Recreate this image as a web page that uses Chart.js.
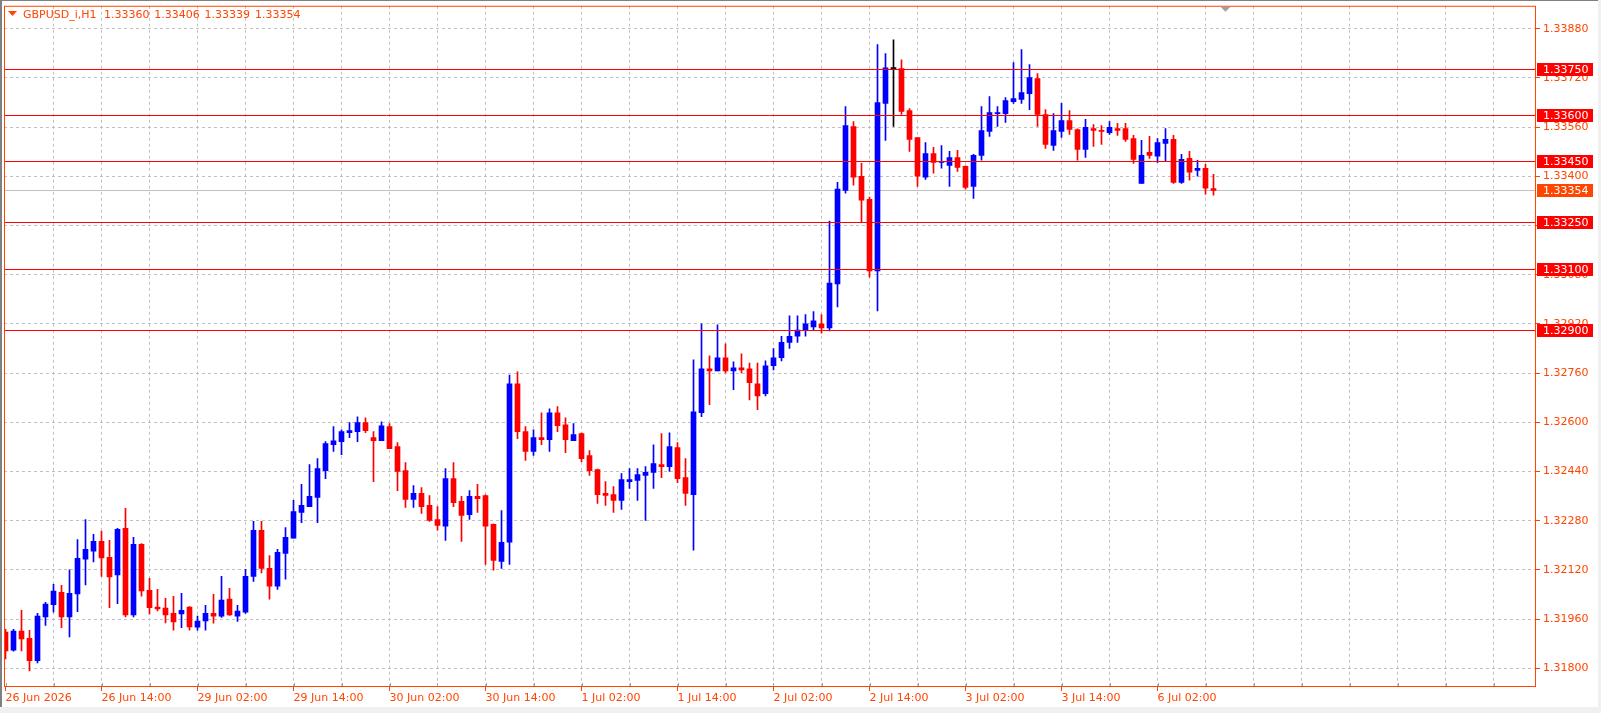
<!DOCTYPE html>
<html>
<head>
<meta charset="utf-8">
<title>GBPUSD_i,H1</title>
<script src="https://cdn.jsdelivr.net/npm/chart.js@4.4.0/dist/chart.umd.min.js"></script>
<style>
  html, body { margin: 0; padding: 0; background: #fff; overflow: hidden; }
</style>
</head>
<body>
<canvas id="myChart" width="1601" height="713"></canvas>
<script>
const symbol = 'GBPUSD_i,H1'
const timeLabels = ['26 Jun 2026', '26 Jun 14:00', '29 Jun 02:00', '29 Jun 14:00', '30 Jun 02:00', '30 Jun 14:00',
  '1 Jul 02:00', '1 Jul 14:00', '2 Jul 02:00', '2 Jul 14:00', '3 Jul 02:00', '3 Jul 14:00', '6 Jul 02:00']
const labelStep = 12   // bars between time labels
const gridStep = 6     // bars between vertical grid lines

const opens = [
  1.31918, 1.31859, 1.31921, 1.31898, 1.31825, 1.31967, 1.32007, 1.32047, 1.31967, 1.32042,
  1.32155, 1.32181, 1.32213, 1.32161, 1.32104, 1.32255, 1.31974, 1.32203, 1.32054, 1.31999,
  1.31996, 1.31979, 1.31977, 1.31999, 1.31934, 1.31954, 1.31979, 1.31970, 1.32025, 1.31970,
  1.31983, 1.32099, 1.32249, 1.32125, 1.32067, 1.32174, 1.32223, 1.32307, 1.32326, 1.32356,
  1.32443, 1.32527, 1.32537, 1.32566, 1.32570, 1.32599, 1.32550, 1.32540, 1.32586, 1.32521,
  1.32443, 1.32349, 1.32369, 1.32330, 1.32284, 1.32262, 1.32417, 1.32343, 1.32300, 1.32359,
  1.32362, 1.32268, 1.32148, 1.32210, 1.32725, 1.32570, 1.32505, 1.32550, 1.32544, 1.32631,
  1.32592, 1.32540, 1.32563, 1.32492, 1.32446, 1.32369, 1.32365, 1.32346, 1.32407, 1.32411,
  1.32427, 1.32437, 1.32463, 1.32456, 1.32518, 1.32420, 1.32365, 1.32631, 1.32774, 1.32767,
  1.32810, 1.32767, 1.32777, 1.32774, 1.32725, 1.32693, 1.32784, 1.32810, 1.32860, 1.32880,
  1.32900, 1.32910, 1.32920, 1.32907, 1.33050, 1.33354, 1.33562, 1.33400, 1.33325, 1.33092,
  1.33637, 1.33750, 1.33750, 1.33614, 1.33526, 1.33397, 1.33474, 1.33445, 1.33435, 1.33461,
  1.33432, 1.33367, 1.33468, 1.33546, 1.33604, 1.33604, 1.33643, 1.33650, 1.33669, 1.33718,
  1.33601, 1.33500, 1.33546, 1.33581, 1.33552, 1.33487, 1.33555, 1.33549, 1.33542, 1.33555,
  1.33555, 1.33523, 1.33377, 1.33478, 1.33465, 1.33507, 1.33520, 1.33380, 1.33458, 1.33419,
  1.33426, 1.33360
]
const highs = [
  1.31927, 1.31927, 1.31989, 1.31924, 1.31979, 1.32015, 1.32073, 1.32070, 1.32120, 1.32219,
  1.32284, 1.32236, 1.32246, 1.32216, 1.32255, 1.32320, 1.32226, 1.32206, 1.32093, 1.32057,
  1.32028, 1.32034, 1.32044, 1.32001, 1.31970, 1.32005, 1.32041, 1.32099, 1.32060, 1.32005,
  1.32122, 1.32278, 1.32278, 1.32167, 1.32187, 1.32258, 1.32346, 1.32398, 1.32463, 1.32482,
  1.32537, 1.32586, 1.32576, 1.32599, 1.32618, 1.32615, 1.32570, 1.32602, 1.32596, 1.32534,
  1.32469, 1.32394, 1.32388, 1.32362, 1.32326, 1.32450, 1.32469, 1.32359, 1.32378, 1.32398,
  1.32364, 1.32270, 1.32313, 1.32754, 1.32764, 1.32586, 1.32576, 1.32631, 1.32644, 1.32651,
  1.32615, 1.32596, 1.32565, 1.32508, 1.32448, 1.32407, 1.32391, 1.32433, 1.32450, 1.32450,
  1.32456, 1.32527, 1.32563, 1.32566, 1.32534, 1.32482, 1.32803, 1.32920, 1.32816, 1.32917,
  1.32855, 1.32797, 1.32823, 1.32793, 1.32793, 1.32800, 1.32840, 1.32880, 1.32946, 1.32946,
  1.32950, 1.32960, 1.32950, 1.33254, 1.33380, 1.33627, 1.33578, 1.33442, 1.33332, 1.33828,
  1.33799, 1.33844, 1.33779, 1.33620, 1.33526, 1.33510, 1.33494, 1.33500, 1.33481, 1.33484,
  1.33434, 1.33471, 1.33627, 1.33659, 1.33627, 1.33656, 1.33770, 1.33812, 1.33763, 1.33734,
  1.33617, 1.33604, 1.33637, 1.33614, 1.33554, 1.33585, 1.33568, 1.33565, 1.33578, 1.33572,
  1.33572, 1.33533, 1.33517, 1.33530, 1.33523, 1.33555, 1.33533, 1.33471, 1.33481, 1.33452,
  1.33439, 1.33406
]
const lows = [
  1.31831, 1.31856, 1.31857, 1.31792, 1.31818, 1.31940, 1.31983, 1.31932, 1.31902, 1.31984,
  1.32071, 1.32146, 1.32099, 1.31997, 1.32010, 1.31967, 1.31967, 1.32035, 1.31977, 1.31987,
  1.31948, 1.31924, 1.31932, 1.31924, 1.31924, 1.31924, 1.31947, 1.31966, 1.31972, 1.31953,
  1.31979, 1.32083, 1.32110, 1.32025, 1.32057, 1.32090, 1.32223, 1.32274, 1.32326, 1.32274,
  1.32417, 1.32505, 1.32495, 1.32550, 1.32537, 1.32566, 1.32407, 1.32540, 1.32514, 1.32378,
  1.32323, 1.32323, 1.32304, 1.32278, 1.32249, 1.32216, 1.32326, 1.32213, 1.32284, 1.32307,
  1.32138, 1.32119, 1.32125, 1.32138, 1.32547, 1.32476, 1.32492, 1.32527, 1.32505, 1.32570,
  1.32501, 1.32540, 1.32472, 1.32427, 1.32336, 1.32330, 1.32307, 1.32317, 1.32385, 1.32346,
  1.32281, 1.32385, 1.32420, 1.32440, 1.32404, 1.32330, 1.32184, 1.32618, 1.32657, 1.32767,
  1.32761, 1.32706, 1.32761, 1.32673, 1.32641, 1.32686, 1.32770, 1.32800, 1.32840, 1.32860,
  1.32880, 1.32900, 1.32890, 1.32897, 1.32975, 1.33345, 1.33371, 1.33251, 1.33072, 1.32962,
  1.33517, 1.33562, 1.33601, 1.33481, 1.33367, 1.33390, 1.33410, 1.33426, 1.33367, 1.33416,
  1.33358, 1.33328, 1.33452, 1.33530, 1.33562, 1.33575, 1.33637, 1.33637, 1.33617, 1.33562,
  1.33491, 1.33484, 1.33526, 1.33536, 1.33452, 1.33461, 1.33497, 1.33504, 1.33536, 1.33533,
  1.33513, 1.33442, 1.33377, 1.33458, 1.33445, 1.33448, 1.33377, 1.33377, 1.33387, 1.33400,
  1.33342, 1.33339
]
const closes = [
  1.31857, 1.31921, 1.31896, 1.31825, 1.31970, 1.32009, 1.32051, 1.31967, 1.32044, 1.32158,
  1.32187, 1.32213, 1.32159, 1.32097, 1.32252, 1.31974, 1.32203, 1.32052, 1.31997, 1.31993,
  1.31974, 1.31951, 1.31989, 1.31935, 1.31954, 1.31979, 1.31970, 1.32022, 1.31974, 1.31986,
  1.32099, 1.32249, 1.32125, 1.32067, 1.32177, 1.32226, 1.32310, 1.32330, 1.32359, 1.32450,
  1.32531, 1.32540, 1.32570, 1.32573, 1.32599, 1.32573, 1.32540, 1.32589, 1.32514, 1.32440,
  1.32349, 1.32369, 1.32326, 1.32281, 1.32265, 1.32417, 1.32339, 1.32297, 1.32359, 1.32352,
  1.32262, 1.32151, 1.32210, 1.32725, 1.32570, 1.32505, 1.32550, 1.32544, 1.32631, 1.32589,
  1.32544, 1.32560, 1.32482, 1.32443, 1.32365, 1.32362, 1.32346, 1.32414, 1.32414, 1.32430,
  1.32437, 1.32466, 1.32456, 1.32521, 1.32417, 1.32369, 1.32634, 1.32774, 1.32767, 1.32810,
  1.32767, 1.32777, 1.32770, 1.32729, 1.32686, 1.32784, 1.32810, 1.32860, 1.32880, 1.32900,
  1.32920, 1.32930, 1.32907, 1.33053, 1.33358, 1.33565, 1.33397, 1.33322, 1.33092, 1.33640,
  1.33753, 1.33750, 1.33611, 1.33520, 1.33400, 1.33474, 1.33445, 1.33448, 1.33461, 1.33429,
  1.33364, 1.33468, 1.33549, 1.33607, 1.33607, 1.33646, 1.33653, 1.33672, 1.33721, 1.33601,
  1.33504, 1.33549, 1.33581, 1.33552, 1.33487, 1.33559, 1.33549, 1.33546, 1.33559, 1.33549,
  1.33520, 1.33455, 1.33468, 1.33468, 1.33510, 1.33520, 1.33380, 1.33455, 1.33413, 1.33426,
  1.33361, 1.33354
]

const priceTicks = [1.31800, 1.31960, 1.32120, 1.32280, 1.32440, 1.32600, 1.32760,
  1.32920, 1.33080, 1.33240, 1.33400, 1.33560, 1.33720, 1.33880]
const levels = [1.33750, 1.33600, 1.33450, 1.33250, 1.33100, 1.32900]
const bid = 1.33354

const FG = '#FF4500'
const FONT = 'DejaVu Sans'
const n = opens.length
const idx = opens.map((v, i) => i)
const colorOf = i => closes[i] > opens[i] ? '#0000FF' : (closes[i] < opens[i] ? '#FF0000' : '#000000')
const xMax = 191.1875

const frame = {
  id: 'frame',
  beforeDraw(chart) {
    const ctx = chart.ctx
    ctx.save()
    ctx.fillStyle = '#fff'
    ctx.fillRect(0, 0, chart.width, chart.height)
    ctx.restore()
  },
  beforeDatasetsDraw(chart) {
    const {ctx, chartArea: a, scales: {y}} = chart
    const py = Math.round(y.getPixelForValue(bid)) + 0.5
    ctx.save()
    ctx.strokeStyle = '#C0C0C0'
    ctx.lineWidth = 1
    ctx.beginPath(); ctx.moveTo(a.left, py); ctx.lineTo(a.right, py); ctx.stroke()
    ctx.restore()
  },
  afterDatasetsDraw(chart) {
    const {ctx, chartArea: a, scales: {y}} = chart
    ctx.save()
    ctx.strokeStyle = '#FF0000'
    ctx.lineWidth = 1
    levels.forEach(l => {
      const py = Math.round(y.getPixelForValue(l)) + 0.5
      ctx.beginPath(); ctx.moveTo(a.left, py); ctx.lineTo(a.right, py); ctx.stroke()
    })
    ctx.restore()
  },
  afterDraw(chart) {
    const {ctx, chartArea: a, scales: {x, y}} = chart
    ctx.save()
    // small grey ticks inside the bottom border
    ctx.strokeStyle = '#A0A0A0'
    for (let v = 0; v <= xMax; v += gridStep) {
      const px = Math.round(x.getPixelForValue(v)) + 0.5
      ctx.beginPath(); ctx.moveTo(px, a.bottom - 4); ctx.lineTo(px, a.bottom); ctx.stroke()
    }
    // plot border
    ctx.strokeStyle = FG
    ctx.strokeRect(a.left + 0.5, a.top + 0.5, a.right - a.left, a.bottom - a.top - 1)

    ctx.font = '11px ' + FONT
    ctx.textBaseline = 'middle'
    const box = (val, fill) => {
      const py = Math.round(y.getPixelForValue(val))
      ctx.fillStyle = fill
      ctx.fillRect(a.right + 2, py - 6, 56, 13)
      ctx.fillStyle = '#fff'
      ctx.fillText(val.toFixed(5), a.right + 8, py + 1)
    }
    levels.forEach(l => box(l, '#FF0000'))
    box(bid, FG)

    // title
    ctx.fillStyle = FG
    ctx.beginPath(); ctx.moveTo(8, 11); ctx.lineTo(17, 11); ctx.lineTo(12.5, 16); ctx.closePath(); ctx.fill()
    ctx.fillText(symbol, 23, 15)
    const last = [opens[n - 1], highs[n - 1], lows[n - 1], closes[n - 1]]
    last.forEach((v, i) => ctx.fillText(v.toFixed(5), 104 + i * 50.3, 15))

    // chart shift marker
    const sx = x.getPixelForValue(n - 1) + 12
    ctx.fillStyle = '#A0A0A0'
    ctx.beginPath(); ctx.moveTo(sx - 5, a.top + 1); ctx.lineTo(sx + 5, a.top + 1); ctx.lineTo(sx, a.top + 6); ctx.closePath(); ctx.fill()

    // window frame
    ctx.fillStyle = '#F0F0F0'
    ctx.fillRect(0, 707, chart.width, chart.height - 707)
    ctx.fillRect(1598, 0, 3, chart.height)
    ctx.fillStyle = '#808080'
    ctx.fillRect(0, 0, 2, 707)
    ctx.fillRect(0, 0, 1598, 1)
    ctx.restore()
  }
}

const data = {
  datasets: [
    {
      label: 'wick',
      data: idx.map(i => ({x: i, y: [lows[i], highs[i]]})),
      backgroundColor: idx.map(colorOf),
      barThickness: 1,
      grouped: false,
      order: 2
    },
    {
      label: 'body',
      data: idx.map(i => ({x: i, y: [opens[i], closes[i]]})),
      backgroundColor: idx.map(colorOf),
      barThickness: 5,
      minBarLength: 1,
      grouped: false,
      order: 1
    }
  ]
}

const config = {
  type: 'bar',
  data: data,
  options: {
    responsive: false,
    animation: false,
    devicePixelRatio: 1,
    layout: {padding: {left: 4, top: 4, right: 0, bottom: 0}},
    plugins: {legend: {display: false}, tooltip: {enabled: false}},
    scales: {
      x: {
        type: 'linear',
        offset: false,
        min: -0.1875,
        max: xMax,
        afterBuildTicks: s => {
          s.ticks = []
          for (let v = 0; v <= xMax; v += gridStep) s.ticks.push({value: v})
        },
        afterFit: s => { s.height = 26 },
        grid: {
          offset: false,
          color: c => (c.tick && c.tick.value === 0) ? 'rgba(0,0,0,0)' : '#C0C0C0',
          tickColor: c => (c.tick && c.tick.value % labelStep === 0 && c.tick.value / labelStep < timeLabels.length) ? FG : 'rgba(0,0,0,0)',
          tickLength: 4
        },
        border: {display: false, dash: [3, 3]},
        ticks: {
          autoSkip: false, maxRotation: 0, align: 'start', padding: 1,
          color: FG, font: {family: FONT, size: 11},
          callback: v => v % labelStep === 0 ? (timeLabels[v / labelStep] || '') : ''
        }
      },
      y: {
        position: 'right',
        beginAtZero: false,
        min: 1.317394,
        max: 1.339545,
        afterBuildTicks: s => { s.ticks = priceTicks.map(v => ({value: v})) },
        afterFit: s => { s.width = 66 },
        grid: {color: '#C0C0C0', tickColor: FG, tickLength: 5},
        border: {display: false, dash: [3, 3]},
        ticks: {
          padding: 3, color: FG, font: {family: FONT, size: 11, lineHeight: 0.5},
          callback: v => v.toFixed(5)
        }
      }
    }
  },
  plugins: [frame]
}

const myChart = new Chart(document.getElementById('myChart'), config)
</script>
</body>
</html>
